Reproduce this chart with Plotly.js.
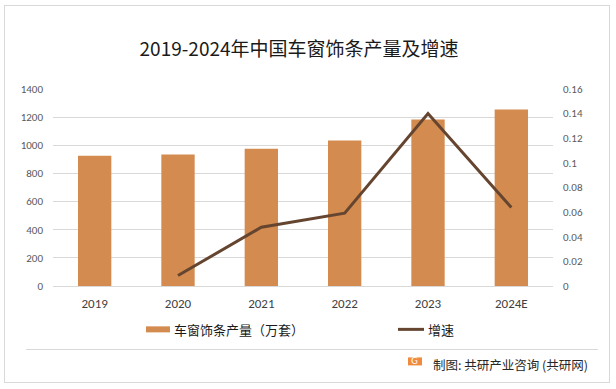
<!DOCTYPE html>
<html>
<head>
<meta charset="utf-8">
<script src="https://cdn.plot.ly/plotly-3.0.1.min.js"></script>
<style>
html,body{margin:0;padding:0;background:#fff;}
#wrap{position:relative;width:616px;height:389px;}
#chart{width:616px;height:389px;}
#frame{position:absolute;left:4px;top:5px;width:604px;height:376px;border:1px solid #d9d9d9;pointer-events:none;}
#sep{position:absolute;left:26px;top:349px;width:572px;height:0;border-top:1px solid #d9d9d9;pointer-events:none;}
</style>
</head>
<body>
<div id="wrap">
<div id="chart"></div>
<div id="frame"></div>
<div id="sep"></div>
</div>
<script>
const years = ["2019","2020","2021","2022","2023","2024E"];
const output = [926, 934, 976, 1034, 1184, 1255];
const growthYears = ["2020","2021","2022","2023","2024E"];
const growth = [0.0085, 0.0477, 0.0591, 0.140, 0.0637];
const leftTicks = [0,200,400,600,800,1000,1200,1400];
const rightTicks = [0,0.02,0.04,0.06,0.08,0.1,0.12,0.14,0.16];
const barName = "车窗饰条产量（万套）";
const lineName = "增速";
const titleText = "2019-2024年中国车窗饰条产量及增速";
const footerText = "制图: 共研产业咨询 (共研网)";

const barColor = "#D38B4F";
const lineColor = "#654530";

const L = 53, R = 553, T = 89, B = 285.7;
const px = x => (x - L) / (R - L);
const py = y => (B - y) / (B - T);

const traces = [
  {type:"bar", x:years, y:output, name:barName, marker:{color:barColor}, width:0.4, yaxis:"y", hoverinfo:"x+y"},
  {type:"scatter", mode:"lines", x:growthYears, y:growth, name:lineName, line:{color:lineColor, width:3}, yaxis:"y2"}
];

const fam = "Calibri, Carlito, 'Liberation Sans', Arial, sans-serif";
const tickFont = {family:fam, size:11, color:"#595959"};
const xTickFont = {family:fam, size:13, color:"#404040"};

const layout = {
  width:616, height:389,
  margin:{l:L, r:616-R, t:T, b:389-B},
  paper_bgcolor:"#fff", plot_bgcolor:"rgba(0,0,0,0)",
  showlegend:false,
  bargap:0.6,
  title:{text:titleText, x:0.4855, xanchor:"center", y:1-49/389, yanchor:"middle",
         font:{family:"'Noto Sans CJK SC', sans-serif", size:19, color:"#1a1a1a"}},
  xaxis:{type:"category", categoryorder:"array", categoryarray:years, tickfont:xTickFont,
         showgrid:false, showline:true, linecolor:"#d9d9d9", linewidth:1, ticks:"", ticklabelstandoff:5},
  yaxis:{range:[0,1400], tickvals:leftTicks, tickfont:tickFont, showgrid:true, gridcolor:"#d9d9d9",
         zeroline:false, showline:false, ticks:"", ticklabelstandoff:9, fixedrange:true},
  yaxis2:{range:[0,0.16], tickvals:rightTicks, ticktext:rightTicks.map(String), tickfont:tickFont, overlaying:"y", side:"right",
          showgrid:false, zeroline:false, showline:false, ticks:"", ticklabelstandoff:9},
  shapes:[
    {type:"rect", xref:"paper", yref:"paper", x0:px(146), x1:px(170), y0:py(332), y1:py(326), fillcolor:barColor, line:{width:0}},
    {type:"line", xref:"paper", yref:"paper", x0:px(398), x1:px(424), y0:py(329), y1:py(329), line:{color:lineColor, width:3}},
    {type:"rect", xref:"paper", yref:"paper", x0:px(408), x1:px(422), y0:py(365), y1:py(357), fillcolor:"#F08A3C", line:{width:0}}
  ],
  annotations:[
    {xref:"paper", yref:"paper", x:px(172), y:py(329), xanchor:"left", yanchor:"middle", showarrow:false,
     text:barName, font:{family:"'Noto Sans CJK SC', sans-serif", size:13, color:"#1a1a1a"}},
    {xref:"paper", yref:"paper", x:px(426), y:py(329), xanchor:"left", yanchor:"middle", showarrow:false,
     text:lineName, font:{family:"'Noto Sans CJK SC', sans-serif", size:13, color:"#1a1a1a"}},
    {xref:"paper", yref:"paper", x:px(414.5), y:py(361), xanchor:"center", yanchor:"middle", showarrow:false,
     text:"G", font:{family:"'DejaVu Sans', sans-serif", size:9, color:"#ffffff"}},
    {xref:"paper", yref:"paper", x:px(431), y:py(364), xanchor:"left", yanchor:"middle", showarrow:false,
     text:footerText, font:{family:"'Noto Sans CJK SC', sans-serif", size:12.5, color:"#262626"}}
  ]
};

Plotly.newPlot("chart", traces, layout, {displayModeBar:false, staticPlot:true});
</script>
</body>
</html>
